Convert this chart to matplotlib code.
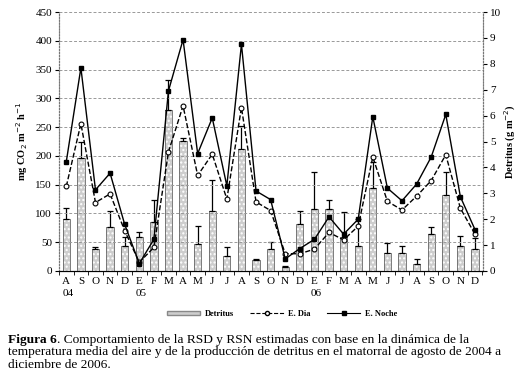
import numpy as np
import matplotlib
matplotlib.use('Agg')
import matplotlib.pyplot as plt
from matplotlib.lines import Line2D
from matplotlib.patches import Patch

plt.rcParams['font.family'] = ['Liberation Serif', 'DejaVu Serif']

# months Aug 2004 - Dec 2006
months = ['A', 'S', 'O', 'N', 'D', 'E', 'F', 'M', 'A', 'M', 'J', 'J',
          'A', 'S', 'O', 'N', 'D', 'E', 'F', 'M', 'A', 'M', 'J', 'J',
          'A', 'S', 'O', 'N', 'D']
years = {0: '04', 5: '05', 17: '06'}

# detritus (g m-2), right axis
detritus = [2.02, 4.38, 0.84, 1.68, 0.95, 1.32, 1.90, 6.20, 5.02, 1.05,
            2.30, 0.56, 4.70, 0.44, 0.84, 0.17, 1.80, 2.40, 2.40, 1.32,
            0.96, 3.21, 0.68, 0.68, 0.26, 1.44, 2.93, 0.96, 0.84]
det_err = [0.43, 0.60, 0.07, 0.62, 0.38, 0.19, 0.86, 1.16, 0.13, 0.70,
           1.23, 0.37, 0.88, 0.02, 0.27, 0.03, 0.50, 1.42, 0.36, 0.94,
           1.04, 1.01, 0.41, 0.30, 0.22, 0.27, 0.89, 0.40, 0.42]

# respiration (mg CO2 m-2 h-1), left axis
e_dia = [147, 256, 119, 134, 70, 15, 41, 207, 287, 166, 203, 125, 284, 120,
         105, 30, 30, 38, 67, 54, 78, 198, 121, 106, 130, 157, 202, 109, 64]
e_noche = [190, 353, 141, 170, 81, 13, 55, 313, 402, 204, 266, 148, 394, 139,
           124, 21, 39, 55, 94, 64, 90, 268, 144, 122, 151, 198, 272, 129, 72]

cap_bold = 'Figura 6'
cap_lines = ['. Comportamiento de la RSD y RSN estimadas con base en la dinámica de la',
             'temperatura media del aire y de la producción de detritus en el matorral de agosto de 2004 a',
             'diciembre de 2006.']

x = np.arange(len(months))
W, H = 519, 379

fig = plt.figure(figsize=(W / 100, H / 100), dpi=100)
ax = fig.add_axes([59 / W, 1 - 271 / H, 424 / W, 259 / H])
ax2 = ax.twinx()

# bars on right axis, behind the lines
ax2.bar(x, detritus, width=0.5, color='#cdcdcd', edgecolor='white',
        linewidth=0, hatch='....', zorder=2)
ax2.bar(x, detritus, width=0.5, fill=False, edgecolor='#666666',
        linewidth=0.6, zorder=2)
ax2.errorbar(x, detritus, yerr=[np.zeros(len(x)), det_err], fmt='none',
             ecolor='black', elinewidth=0.9, capsize=2.5, capthick=0.9, zorder=3)
ax2.set_ylim(0, 10)
ax2.set_yticks(range(0, 11))
ax2.tick_params(axis='y', labelsize=8, length=3, direction='out', pad=2)
ax2.set_ylabel('Detritus (g m$^{-2}$)', fontsize=7.5, fontweight='bold', labelpad=1)

ax.set_zorder(ax2.get_zorder() + 1)
ax.patch.set_visible(False)
ax.plot(x, e_dia, ls='--', color='black', lw=1.0, marker='o', ms=3.5,
        mfc='white', mec='black', mew=0.8, zorder=4)
ax.plot(x, e_noche, ls='-', color='black', lw=1.0, marker='s', ms=3.5,
        mfc='black', mec='black', zorder=5)
ax.set_ylim(0, 450)
ax.set_yticks(range(0, 451, 50))
ax.set_xlim(-0.45, 28.55)
ax.set_xticks(x)
ax.set_xticklabels(months)
ax.set_xticks(np.arange(-0.5, 29, 1), minor=True)
ax.tick_params(axis='x', which='major', labelsize=8, length=0, pad=4)
ax.tick_params(axis='x', which='minor', length=3, direction='out')
ax.tick_params(axis='y', labelsize=8, length=3, direction='out', pad=2)
ax.set_ylabel('mg CO$_2$ m$^{-2}$ h$^{-1}$', fontsize=7.5, fontweight='bold', labelpad=4)
for i, y in years.items():
    ax.text(i - 0.25, -0.07, y, transform=ax.get_xaxis_transform(),
            fontsize=8, ha='left', va='top')

ax.yaxis.grid(True, ls=(0, (3, 2)), color='#999999', lw=0.7)
for a in (ax, ax2):
    a.spines['top'].set_visible(False)
    a.spines['left'].set_color('#777777')
    a.spines['right'].set_color('#777777')
    a.spines['left'].set_linestyle(':')
    a.spines['right'].set_linestyle(':')

handles = [Patch(facecolor='#cdcdcd', edgecolor='#888888'),
           Line2D([], [], ls='--', color='black', lw=0.8, marker='o', ms=3,
                  mfc='white'),
           Line2D([], [], ls='-', color='black', lw=0.8, marker='s', ms=3)]
fig.legend(handles, ['Detritus', 'E. Dia', 'E. Noche'], loc='center',
           bbox_to_anchor=(282 / W, 1 - 314 / H), ncol=3, frameon=False,
           prop={'size': 6, 'weight': 'bold'}, handlelength=4,
           handleheight=0.5, columnspacing=2.0, handletextpad=0.5)

# caption
fs = 9.6
renderer = fig.canvas.get_renderer()
x0 = 8 / W
tb = fig.text(x0, 1 - 343.5 / H, cap_bold, fontsize=fs, fontweight='bold',
              va='baseline')
bw = tb.get_window_extent(renderer).width / W
fig.text(x0 + bw, 1 - 343.5 / H, cap_lines[0], fontsize=fs, va='baseline')
fig.text(x0, 1 - 355.5 / H, cap_lines[1], fontsize=fs, va='baseline')
fig.text(x0, 1 - 367.5 / H, cap_lines[2], fontsize=fs, va='baseline')

fig.savefig('out.png', dpi=100)
